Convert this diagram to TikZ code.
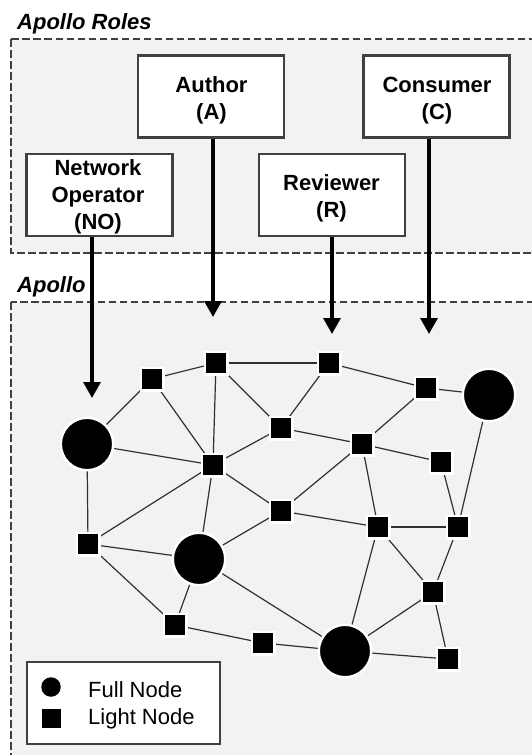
\documentclass[tikz,border=0pt]{standalone}
\usepackage{fontspec}
\setmainfont{Liberation Sans}
\usetikzlibrary{arrows.meta,calc}
\definecolor{panel}{HTML}{F2F2F2}
\definecolor{rim}{HTML}{404040}
\definecolor{wire}{HTML}{303030}
\pgfdeclarelayer{back}
\pgfdeclarelayer{wires}
\pgfsetlayers{back,wires,main}
\begin{document}
\begin{tikzpicture}[x=1pt,y=-1pt,
  panelbox/.style={draw=rim,fill=panel,line width=1.7pt,dash pattern=on 7.5pt off 3.5pt},
  rolebox/.style={draw=rim,fill=white,line width=2.2pt,minimum width=146pt,minimum height=82pt,inner sep=0pt},
  roletext/.style={font=\fontsize{22}{27}\selectfont\bfseries,align=center,inner sep=0pt},
  heading/.style={font=\fontsize{22}{27}\selectfont\bfseries\itshape,anchor=base west,inner sep=0pt},
  legtext/.style={font=\fontsize{22}{27}\selectfont,anchor=base west,inner sep=0pt},
  feed/.style={line width=3.2pt,-{Triangle[width=17pt,length=16pt]}},
  link/.style={draw=wire,line width=1.2pt},
  full/.style={circle,fill=black,draw=white,line width=2.5pt,minimum size=52.5pt,inner sep=0pt},
  light/.style={rectangle,fill=black,draw=white,line width=2.5pt,minimum size=22.5pt,inner sep=0pt},
]
\clip (0,0) rectangle (531,755);

% dashed panels
\begin{pgfonlayer}{back}
  \draw[panelbox] (11,39) rectangle (560,253);
  \draw[panelbox] (11,302) rectangle (560,790);
\end{pgfonlayer}
\node[heading] (hroles) at (17,29) {Apollo Roles};
\node[heading] (happollo) at (17,292) {Apollo};

% role boxes
\node[rolebox] (boxA) at (211,96.5) {};
\node[rolebox] (boxC) at (436.5,96.5) {};
\node[rolebox] (boxNO) at (99.5,195) {};
\node[rolebox] (boxR) at (332,195) {};
\node[roletext] (txtA) at (211.5,100.3) {Author\\(A)};
\node[roletext] (txtC) at (437,100.3) {Consumer\\(C)};
\node[roletext] (txtNO) at (98,197.3) {Network\\Operator\\(NO)};
\node[roletext] (txtR) at (331.5,198.8) {Reviewer\\(R)};

% arrow tips
\coordinate (tipNO) at (92,398);
\coordinate (tipA) at (213,317);
\coordinate (tipR) at (332,334);
\coordinate (tipC) at (429,334);

% network nodes
\node[full] (f0) at (87,444) {};
\node[full] (f1) at (489,395) {};
\node[full] (f2) at (199,559) {};
\node[full] (f3) at (345,651) {};
\node[light] (l1) at (152,379) {};
\node[light] (l2) at (216,363) {};
\node[light] (l3) at (329,363) {};
\node[light] (l4) at (426,388) {};
\node[light] (l5) at (281,428) {};
\node[light] (l6) at (362,444) {};
\node[light] (l7) at (441,462) {};
\node[light] (l8) at (213,465) {};
\node[light] (l9) at (281,511) {};
\node[light] (l10) at (378,527) {};
\node[light] (l11) at (458,527) {};
\node[light] (l12) at (88,544) {};
\node[light] (l13) at (433,592) {};
\node[light] (l14) at (175,625) {};
\node[light] (l15) at (263,643) {};
\node[light] (l16) at (448,659) {};

% links between nodes
\begin{pgfonlayer}{wires}
  \foreach \a/\b in {f0/l1,l1/l2,l1/l8,l2/l8,l2/l3,l2/l5,l3/l5,l3/l4,l4/f1,l4/l6,
                     f0/l8,l5/l6,l6/l7,l8/l9,l8/l5,l6/l9,f1/l11,l7/l11,l6/l10,
                     f0/l12,l8/l12,l8/f2,l12/f2,l12/l14,f2/l14,f2/l9,f2/f3,
                     l9/l10,l10/l11,l10/f3,l10/l13,l11/l13,l13/f3,l13/l16,
                     f3/l16,l14/l15,l15/f3}
    \draw[link] (\a.center) -- (\b.center);
\end{pgfonlayer}

% role arrows
\draw[feed] (boxNO.south -| tipNO) -- (tipNO);
\draw[feed] (boxA.south -| tipA) -- (tipA);
\draw[feed] (boxR.south -| tipR) -- (tipR);
\draw[feed] (boxC.south -| tipC) -- (tipC);

% legend
\node[draw=rim,fill=white,line width=2.2pt,minimum width=193pt,minimum height=82pt,inner sep=0pt] (legend) at (123.5,703) {};
\node[circle,fill=black,minimum size=19.5pt,inner sep=0pt] (legfull) at (51,687) {};
\node[rectangle,fill=black,minimum size=19pt,inner sep=0pt] (leglight) at (51,718) {};
\node[legtext] (legfulltxt) at (88,697) {Full Node};
\node[legtext] (leglighttxt) at (88,724) {Light Node};
\end{tikzpicture}
\end{document}
